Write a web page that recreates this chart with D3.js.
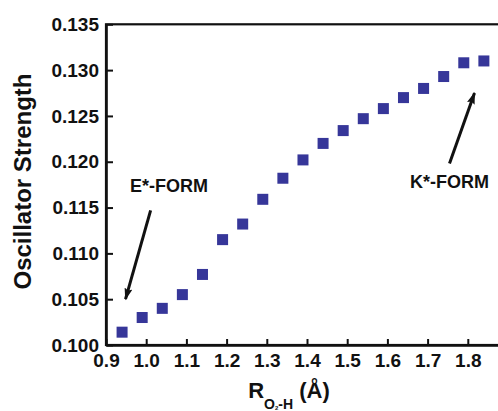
<!DOCTYPE html>
<html>
<head>
<meta charset="utf-8">
<script src="https://cdn.jsdelivr.net/npm/d3@7"></script>
<style>
  body { margin: 0; background: #fff; }
  svg { display: block; overflow: hidden; font-family: "Liberation Sans", Arial, sans-serif; font-weight: bold; }
</style>
</head>
<body>
<svg id="canvas" width="498" height="411"></svg>
<script>
// data
let bondLength = [0.94, 0.99, 1.04, 1.09, 1.14, 1.19, 1.24, 1.29, 1.34, 1.39, 1.44, 1.49, 1.54, 1.59, 1.64, 1.69, 1.74, 1.79, 1.84]
let oscStrength = [0.1014, 0.1030, 0.1040, 0.1055, 0.1077, 0.1115, 0.1132, 0.1159, 0.1182, 0.1202, 0.1220, 0.1234, 0.1247, 0.1258, 0.1270, 0.1280, 0.1293, 0.1308, 0.1310]
let xTicks = [0.9, 1.0, 1.1, 1.2, 1.3, 1.4, 1.5, 1.6, 1.7, 1.8]
let yTicks = [0.100, 0.105, 0.110, 0.115, 0.120, 0.125, 0.130, 0.135]

// annotations: label, label position, arrow tail, arrow tip (data units)
let notes = [
    {label: 'E*-FORM', lx: 1.057, ly: 0.1167, x1: 1.011, y1: 0.1147, x2: 0.9485, y2: 0.1050},
    {label: 'K*-FORM', lx: 1.7545, ly: 0.1171, x1: 1.7545, y1: 0.1198, x2: 1.8167, y2: 0.1275}
]

let canvas = d3.select('#canvas')

let xScale = d3.scaleLinear().domain([0.9, 1.9]).range([106, 508])
let yScale = d3.scaleLinear().domain([0.100, 0.135]).range([345, 24.3])

// frame (right side is cut off by the picture)
canvas.append('rect')
    .attr('x', xScale(0.9))
    .attr('y', yScale(0.135))
    .attr('width', xScale(1.9) - xScale(0.9))
    .attr('height', yScale(0.100) - yScale(0.135))
    .attr('fill', 'none')
    .attr('stroke', '#111')
    .attr('stroke-width', 2.2)

let xAxis = d3.axisBottom(xScale)
    .tickValues(xTicks)
    .tickFormat(d3.format('.1f'))
    .tickSizeInner(-6)
    .tickSizeOuter(0)
    .tickPadding(9)

let yAxis = d3.axisLeft(yScale)
    .tickValues(yTicks)
    .tickFormat(d3.format('.3f'))
    .tickSizeInner(-7)
    .tickSizeOuter(0)
    .tickPadding(7)

let gx = canvas.append('g')
    .attr('transform', 'translate(0,' + yScale(0.100) + ')')
    .call(xAxis)

let gy = canvas.append('g')
    .attr('transform', 'translate(' + xScale(0.9) + ',0)')
    .call(yAxis)

gx.select('.domain').attr('stroke-width', 2.6).attr('stroke', '#111')
gy.select('.domain').attr('stroke-width', 2.6).attr('stroke', '#111')
canvas.selectAll('.tick line').attr('stroke-width', 2).attr('stroke', '#111')
canvas.selectAll('.tick text')
    .attr('font-size', 19)
    .attr('font-family', '"Liberation Sans", Arial, sans-serif')
    .attr('font-weight', 'bold')
    .attr('fill', '#111')

// axis titles
canvas.append('text')
    .attr('transform', 'translate(30.5,181.5) rotate(-90)')
    .attr('text-anchor', 'middle')
    .attr('font-size', 24)
    .attr('fill', '#111')
    .text('Oscillator Strength')

let xTitle = canvas.append('text')
    .attr('x', 289)
    .attr('y', 398)
    .attr('text-anchor', 'middle')
    .attr('font-size', 22)
    .attr('fill', '#111')
xTitle.append('tspan').text('R')
xTitle.append('tspan').attr('font-size', 14).attr('dy', 11).text('O')
xTitle.append('tspan').attr('font-size', 6).attr('dy', 1).text('2')
xTitle.append('tspan').attr('font-size', 14).attr('dy', -1).text('-H')
xTitle.append('tspan').attr('dy', -11).text(' (Å)')

// points
canvas.selectAll('rect.pt')
    .data(bondLength)
    .enter()
    .append('rect')
    .attr('class', 'pt')
    .attr('x', (d) => xScale(d) - 5.5)
    .attr('y', (d, i) => yScale(oscStrength[i]) - 5.5)
    .attr('width', 11)
    .attr('height', 11)
    .attr('fill', '#363699')

// arrows + labels
canvas.append('defs').append('marker')
    .attr('id', 'head')
    .attr('viewBox', '0 0 12 8')
    .attr('refX', 11)
    .attr('refY', 4)
    .attr('markerUnits', 'userSpaceOnUse')
    .attr('markerWidth', 13)
    .attr('markerHeight', 8)
    .attr('orient', 'auto')
    .append('path')
    .attr('d', 'M0,0 L12,4 L0,8 L2,4 Z')
    .attr('fill', '#111')

canvas.selectAll('line.arrow')
    .data(notes)
    .enter()
    .append('line')
    .attr('class', 'arrow')
    .attr('x1', (n) => xScale(n.x1))
    .attr('y1', (n) => yScale(n.y1))
    .attr('x2', (n) => xScale(n.x2))
    .attr('y2', (n) => yScale(n.y2))
    .attr('stroke', '#111')
    .attr('stroke-width', 3)
    .attr('marker-end', 'url(#head)')

canvas.selectAll('text.note')
    .data(notes)
    .enter()
    .append('text')
    .attr('class', 'note')
    .attr('x', (n) => xScale(n.lx))
    .attr('y', (n) => yScale(n.ly))
    .attr('text-anchor', 'middle')
    .attr('font-size', 18)
    .attr('fill', '#111')
    .text((n) => n.label)
</script>
</body>
</html>
